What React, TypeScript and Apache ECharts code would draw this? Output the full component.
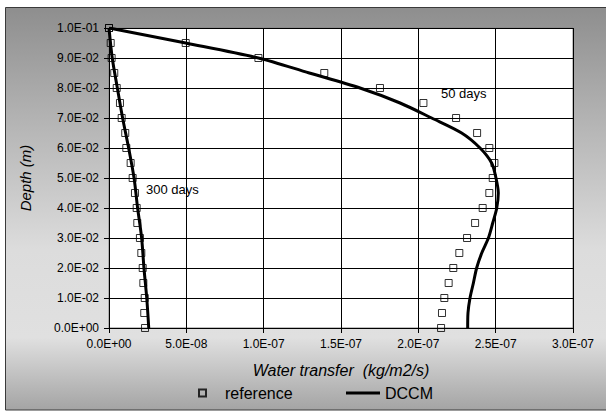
import React, { useEffect, useRef } from "react";
import * as echarts from "echarts";

// Depths (m) of the reference points
const refDepths = [0.1, 0.095, 0.09, 0.085, 0.08, 0.075, 0.07, 0.065, 0.06, 0.055, 0.05, 0.045, 0.04, 0.035, 0.03, 0.025, 0.02, 0.015, 0.01, 0.005, 0.0];
// Reference water transfer (kg/m2/s)
const ref50 = [0, 49.6e-9, 96.6e-9, 139.2e-9, 175.2e-9, 203.3e-9, 224.4e-9, 238.0e-9, 245.9e-9, 249.2e-9, 248.1e-9, 245.9e-9, 241.6e-9, 236.7e-9, 231.5e-9, 226.5e-9, 222.6e-9, 219.6e-9, 216.8e-9, 215.3e-9, 214.7e-9];
const ref300 = [0, 1.1e-9, 1.7e-9, 3.4e-9, 5.0e-9, 7.1e-9, 8.2e-9, 10.5e-9, 11.2e-9, 14.0e-9, 15.3e-9, 16.8e-9, 17.9e-9, 18.3e-9, 20.0e-9, 20.9e-9, 21.8e-9, 22.2e-9, 23.1e-9, 22.8e-9, 23.3e-9];

// DCCM model curves
const dccm50Depths = [0.1, 0.095, 0.09, 0.085, 0.08, 0.075, 0.07, 0.065, 0.06, 0.055, 0.05, 0.045, 0.04, 0.035, 0.03, 0.025, 0.02, 0.015, 0.01, 0.005, 0.0];
const dccm50 = [0, 49.6e-9, 96.6e-9, 129.5e-9, 162.3e-9, 188.2e-9, 208.6e-9, 228.0e-9, 239.9e-9, 247.4e-9, 250.2e-9, 251.7e-9, 250.7e-9, 248.1e-9, 245.3e-9, 241.0e-9, 237.7e-9, 235.6e-9, 233.4e-9, 232.1e-9, 231.9e-9];
const dccm300Depths = [0.1, 0.09, 0.08, 0.07, 0.06, 0.05, 0.04, 0.03, 0.02, 0.01, 0.0];
const dccm300 = [0, 2.1e-9, 5.4e-9, 8.8e-9, 12.7e-9, 16.2e-9, 18.5e-9, 21.1e-9, 22.6e-9, 24.4e-9, 25.7e-9];

const annotations = [
  { text: "50 days", x: 441, y: 93 },
  { text: "300 days", x: 146, y: 189 },
];

const FONT = "'Liberation Sans', Arial, sans-serif";

const fmt = (v: number) => {
  const s = v.toExponential(1);
  const [m, e] = s.split("e");
  const sign = e[0];
  const digits = e.slice(1).padStart(2, "0");
  return `${m}E${sign}${digits}`;
};

const pairs = (xs: number[], ys: number[]) => xs.map((x, i) => [x, ys[i]]);

export default function App() {
  const ref = useRef<HTMLDivElement>(null);
  useEffect(() => {
    document.body.style.margin = "0";
    if (!ref.current) return;
    const chart = echarts.init(ref.current, undefined, { renderer: "svg" });
    const refStyle = { color: "transparent", borderColor: "#000", borderWidth: 1 };
    chart.setOption({
      animation: false,
      textStyle: { fontFamily: FONT },
      graphic: [
        {
          type: "rect",
          z: -100,
          shape: { x: 5.5, y: 7.5, width: 610, height: 402.5 },
          style: {
            fill: new echarts.graphic.LinearGradient(0, 0, 0, 1, [
              { offset: 0, color: "#8e8e8e" },
              { offset: 0.3, color: "#b6b6b6" },
              { offset: 0.6, color: "#dcdcdc" },
              { offset: 0.82, color: "#e0e0e0" },
              { offset: 1, color: "#a4a4a4" },
            ]),
            stroke: "#3a3a3a",
            lineWidth: 1,
          },
        },
        ...annotations.map((a) => ({
          type: "text",
          x: a.x,
          y: a.y,
          z: 10,
          style: { text: a.text, fontSize: 13, fontFamily: FONT, fill: "#000", verticalAlign: "middle" },
        })),
      ],
      grid: {
        left: 109,
        top: 28,
        width: 464,
        height: 300,
        show: true,
        backgroundColor: "#fff",
        borderColor: "#808080",
        borderWidth: 1,
      },
      legend: [
        {
          data: ["reference"],
          left: 193,
          top: 380,
          itemWidth: 7,
          itemHeight: 7,
          icon: "rect",
          textStyle: { fontSize: 16, fontFamily: FONT, color: "#000", padding: [0, 0, 0, 14] },
        },
        {
          data: [{ name: "DCCM", icon: "rect" }],
          left: 341,
          top: 380,
          itemWidth: 34,
          itemHeight: 3,
          itemStyle: { color: "#000", borderWidth: 0 },
          textStyle: { fontSize: 16, fontFamily: FONT, color: "#000" },
        },
      ],
      xAxis: {
        type: "value",
        min: 0,
        max: 3e-7,
        interval: 5e-8,
        name: "Water transfer  (kg/m2/s)",
        nameLocation: "middle",
        nameGap: 34,
        nameTextStyle: { fontSize: 16, fontStyle: "italic", color: "#000", fontFamily: FONT },
        axisLine: { lineStyle: { color: "#000", width: 1 } },
        axisTick: { show: true, inside: false, length: 5, lineStyle: { color: "#000" } },
        axisLabel: { formatter: fmt, fontSize: 12, color: "#000", margin: 10, fontFamily: FONT },
        splitLine: { show: true, lineStyle: { color: "#000", width: 1 } },
      },
      yAxis: {
        type: "value",
        min: 0,
        max: 0.1,
        interval: 0.01,
        name: "Depth (m)",
        nameLocation: "middle",
        nameRotate: 90,
        nameGap: 76,
        nameTextStyle: { fontSize: 15, fontStyle: "italic", color: "#000", fontFamily: FONT },
        axisLine: { show: true, lineStyle: { color: "#000", width: 1 } },
        axisTick: { show: true, inside: false, length: 5, lineStyle: { color: "#000" } },
        axisLabel: { formatter: fmt, fontSize: 12, color: "#000", margin: 10, fontFamily: FONT },
        splitLine: { show: true, lineStyle: { color: "#000", width: 1 } },
      },
      series: [
        {
          name: "reference",
          type: "scatter",
          symbol: "rect",
          symbolSize: 7,
          itemStyle: refStyle,
          data: pairs(ref50, refDepths),
          z: 2,
        },
        {
          name: "reference",
          type: "scatter",
          symbol: "rect",
          symbolSize: 7,
          itemStyle: refStyle,
          data: pairs(ref300, refDepths),
          z: 2,
        },
        {
          name: "DCCM",
          type: "line",
          showSymbol: false,
          symbol: "none",
          smooth: 0.3,
          lineStyle: { color: "#000", width: 3 },
          itemStyle: { color: "#000" },
          data: pairs(dccm50, dccm50Depths),
          z: 3,
        },
        {
          name: "DCCM",
          type: "line",
          showSymbol: false,
          symbol: "none",
          smooth: 0.3,
          lineStyle: { color: "#000", width: 3 },
          itemStyle: { color: "#000" },
          data: pairs(dccm300, dccm300Depths),
          z: 3,
        },
      ],
    });
    return () => chart.dispose();
  }, []);
  return <div ref={ref} style={{ width: 606, height: 412 }} />;
}
